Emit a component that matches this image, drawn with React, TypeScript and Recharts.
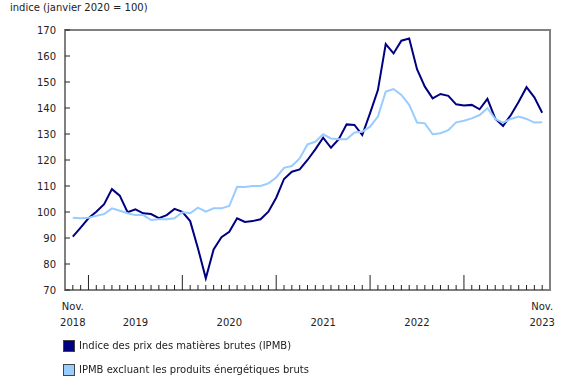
import { LineChart, Line, XAxis, YAxis, ReferenceArea } from "recharts";

// mois de novembre 2018 à novembre 2023
const months: string[] = [];
for (let y = 2018; y <= 2023; y++) {
  for (let m = 1; m <= 12; m++) {
    if ((y === 2018 && m < 11) || (y === 2023 && m > 11)) continue;
    months.push(`${y}-${String(m).padStart(2, "0")}`);
  }
}

const ipmb = [
  90.5, 94, 97.6, 100.1, 103, 108.8, 106.3, 99.9, 101, 99.5, 99.2, 97.6, 98.8,
  101.2, 100.1, 96.5, 86, 74.5, 85.6, 90.3, 92.4, 97.6, 96.2, 96.5, 97.2, 100.1,
  105.5, 112.7, 115.5, 116.4, 120, 124.1, 128.6, 124.7, 128, 133.7, 133.5, 129.6,
  138, 146.9, 164.6, 161, 165.9, 166.7, 154.9, 148.2, 143.7, 145.4, 144.7, 141.4,
  141, 141.2, 139.5, 143.5, 135.9, 133.1, 137.3, 142.4, 148, 144.1, 138.2,
];

const ipmbHorsEnergie = [
  97.8, 97.6, 97.8, 98.5, 99.2, 101.4, 100.5, 99.5, 98.8, 98.8, 96.9, 97.2, 97.2,
  97.6, 99.9, 99.5, 101.7, 100.1, 101.4, 101.4, 102.3, 109.7, 109.6, 110, 110,
  111, 113.3, 117, 117.7, 120.6, 126, 127, 129.9, 128.3, 128, 128, 130.6, 130.9,
  132.8, 136.7, 146.3, 147.3, 145, 141.2, 134.4, 134.1, 129.9, 130.3, 131.5,
  134.5, 135.1, 136, 137.3, 139.9, 135.8, 134.4, 135.8, 136.7, 135.8, 134.4, 134.5,
];

const yTicks = [70, 80, 90, 100, 110, 120, 130, 140, 150, 160, 170];

// étiquettes de l'axe des x : [mois, ligne 1, ligne 2]
const xLabels: [string, string, string][] = [
  ["2018-11", "Nov.", "2018"],
  ["2019-07", "", "2019"],
  ["2020-07", "", "2020"],
  ["2021-07", "", "2021"],
  ["2022-07", "", "2022"],
  ["2023-11", "Nov.", "2023"],
];

const DARK = "#000080";
const LIGHT = "#99ccff";
const FONT = "'DejaVu Sans', Verdana, sans-serif";

const data = months.map((m, i) => ({
  i,
  month: m,
  ipmb: ipmb[i],
  hors: ipmbHorsEnergie[i],
}));

const XTick = (props: any) => {
  const { x, y, payload } = props;
  const idx = payload.value as number;
  const m = months[idx];
  if (!m) return null;
  const major = m.endsWith("-01");
  const lab = xLabels.find((l) => l[0] === m);
  return (
    <g>
      <line x1={x} x2={x} y1={y - (major ? 15 : 5)} y2={y} stroke="#222" strokeWidth={1} />
      {lab && (
        <text x={x} y={y} textAnchor="middle" fontSize={10} fontFamily={FONT} fill="#222">
          {lab[1] && <tspan x={x} dy={20}>{lab[1]}</tspan>}
          <tspan x={x} dy={lab[1] ? 16 : 36}>{lab[2]}</tspan>
        </text>
      )}
    </g>
  );
};

const YTick = (props: any) => {
  const { x, y, payload } = props;
  return (
    <g>
      <line x1={x} x2={x + 5} y1={y} y2={y} stroke="#222" strokeWidth={1} />
      <text x={x - 9} y={y} dy="0.35em" textAnchor="end" fontSize={10} fontFamily={FONT} fill="#222">
        {payload.value}
      </text>
    </g>
  );
};

export default function App() {
  return (
    <div style={{ position: "fixed", top: 0, left: 0, width: 580, height: 385, background: "#fff", fontFamily: FONT }}>
      <div style={{ position: "absolute", left: 10, top: 2, fontSize: 10, color: "#222" }}>
        indice (janvier 2020 = 100)
      </div>
      <LineChart width={580} height={385} data={data} margin={{ top: 30, right: 30, bottom: 55, left: 0 }}>
        <XAxis
          dataKey="i"
          type="number"
          domain={[-1, 61]}
          ticks={months.map((_, i) => i)}
          interval={0}
          axisLine={false}
          tickLine={false}
          tickSize={0}
          tickMargin={0}
          height={40}
          tick={<XTick />}
        />
        <YAxis
          domain={[70, 170]}
          ticks={yTicks}
          width={65}
          axisLine={false}
          tickLine={false}
          tickSize={0}
          tickMargin={0}
          tick={<YTick />}
        />
        <ReferenceArea x1={-1} x2={61} y1={70} y2={170} fill="none" stroke="#808080" strokeWidth={2} fillOpacity={0} />
        <Line type="linear" dataKey="ipmb" stroke={DARK} strokeWidth={2} dot={false} isAnimationActive={false} />
        <Line type="linear" dataKey="hors" stroke={LIGHT} strokeWidth={2} dot={false} isAnimationActive={false} />
      </LineChart>
      <div style={{ position: "absolute", left: 63, top: 339, fontSize: 10, color: "#222" }}>
        {[
          [DARK, "Indice des prix des matières brutes (IPMB)"],
          [LIGHT, "IPMB excluant les produits énergétiques bruts"],
        ].map(([c, t]) => (
          <div key={t} style={{ display: "flex", alignItems: "center", height: 13, marginBottom: 11 }}>
            <span style={{ width: 10, height: 10, background: c, border: "1px solid #444", marginRight: 4 }} />
            <span>{t}</span>
          </div>
        ))}
      </div>
    </div>
  );
}
